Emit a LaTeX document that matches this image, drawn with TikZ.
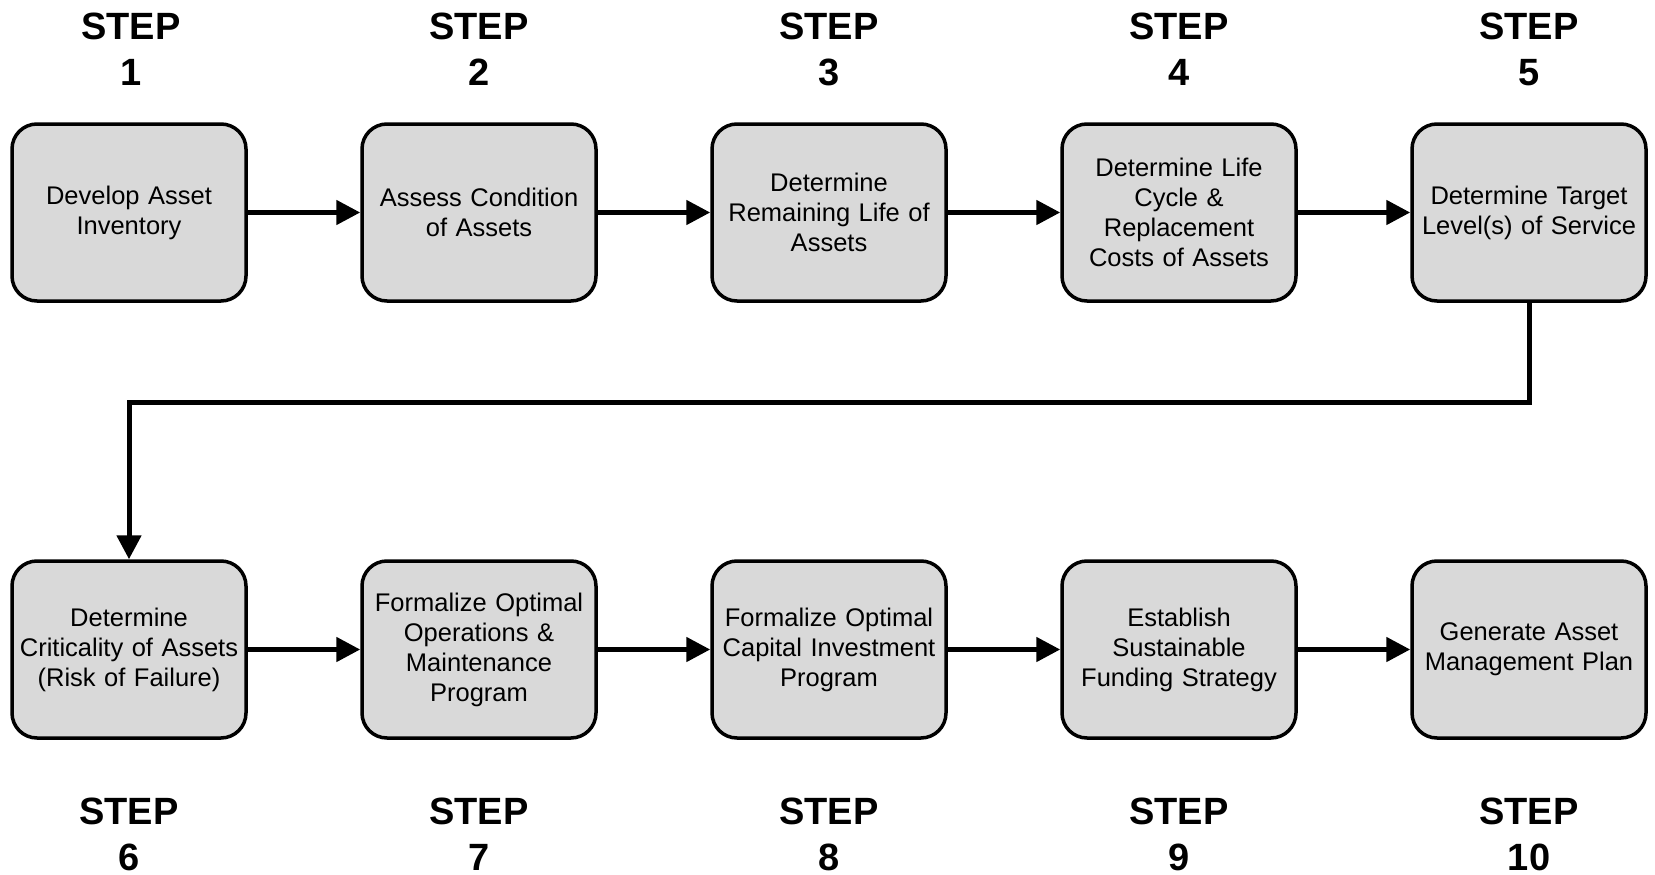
\documentclass[tikz,border=0pt]{standalone}
\usepackage{fontspec}
\setmainfont{Liberation Sans}
\usetikzlibrary{arrows.meta}
\definecolor{boxfill}{RGB}{217,217,217}
\tikzset{
  stepbox/.style={draw=black, line width=3.5pt, fill=boxfill, rounded corners=25pt,
    minimum width=234pt, minimum height=177pt, text width=234pt, inner sep=0pt,
    align=center, font=\fontsize{25.5}{30}\selectfont},
  steplabel/.style={inner sep=0pt, align=center, font=\fontsize{38}{46}\selectfont\bfseries},
  arr/.style={line width=5pt, -{Triangle[length=24pt,width=24pt]}},
  link/.style={line width=5pt}
}
\begin{document}
\begin{tikzpicture}[x=1pt,y=1pt]
\useasboundingbox (0,0) rectangle (1655,-875);
% top row
\node[stepbox] (b1) at (129,-212.5) {Develop Asset\\Inventory};
\node[stepbox] (b2) at (479,-212.5) {Assess Condition\\of Assets};
\node[stepbox] (b3) at (829,-212.5) {Determine\\Remaining Life of\\Assets};
\node[stepbox] (b4) at (1179,-212.5) {Determine Life\\Cycle \&\\Replacement\\Costs of Assets};
\node[stepbox] (b5) at (1529,-212.5) {Determine Target\\Level(s) of Service};
% bottom row
\node[stepbox] (b6) at (129,-649.5) {Determine\\Criticality of Assets\\(Risk of Failure)};
\node[stepbox] (b7) at (479,-649.5) {Formalize Optimal\\Operations \&\\Maintenance\\Program};
\node[stepbox] (b8) at (829,-649.5) {Formalize Optimal\\Capital Investment\\Program};
\node[stepbox] (b9) at (1179,-649.5) {Establish\\Sustainable\\Funding Strategy};
\node[stepbox] (b10) at (1529,-649.5) {Generate Asset\\Management Plan};
% labels
\node[steplabel] (s1) at (131,-49.5) {STEP\\1};
\node[steplabel] (s2) at (479,-49.5) {STEP\\2};
\node[steplabel] (s3) at (829,-49.5) {STEP\\3};
\node[steplabel] (s4) at (1179,-49.5) {STEP\\4};
\node[steplabel] (s5) at (1529,-49.5) {STEP\\5};
\node[steplabel] (s6) at (129,-834) {STEP\\6};
\node[steplabel] (s7) at (479,-834) {STEP\\7};
\node[steplabel] (s8) at (829,-834) {STEP\\8};
\node[steplabel] (s9) at (1179,-834) {STEP\\9};
\node[steplabel] (s10) at (1529,-834) {STEP\\10};
% connectors
\draw[arr] (b1) -- (b2);
\draw[arr] (b2) -- (b3);
\draw[arr] (b3) -- (b4);
\draw[arr] (b4) -- (b5);
\coordinate (mid) at (829,-402.5);
\draw[arr] (b5.south) |- (mid) -| (b6.north);
\draw[arr] (b6) -- (b7);
\draw[arr] (b7) -- (b8);
\draw[arr] (b8) -- (b9);
\draw[arr] (b9) -- (b10);
\end{tikzpicture}
\end{document}
